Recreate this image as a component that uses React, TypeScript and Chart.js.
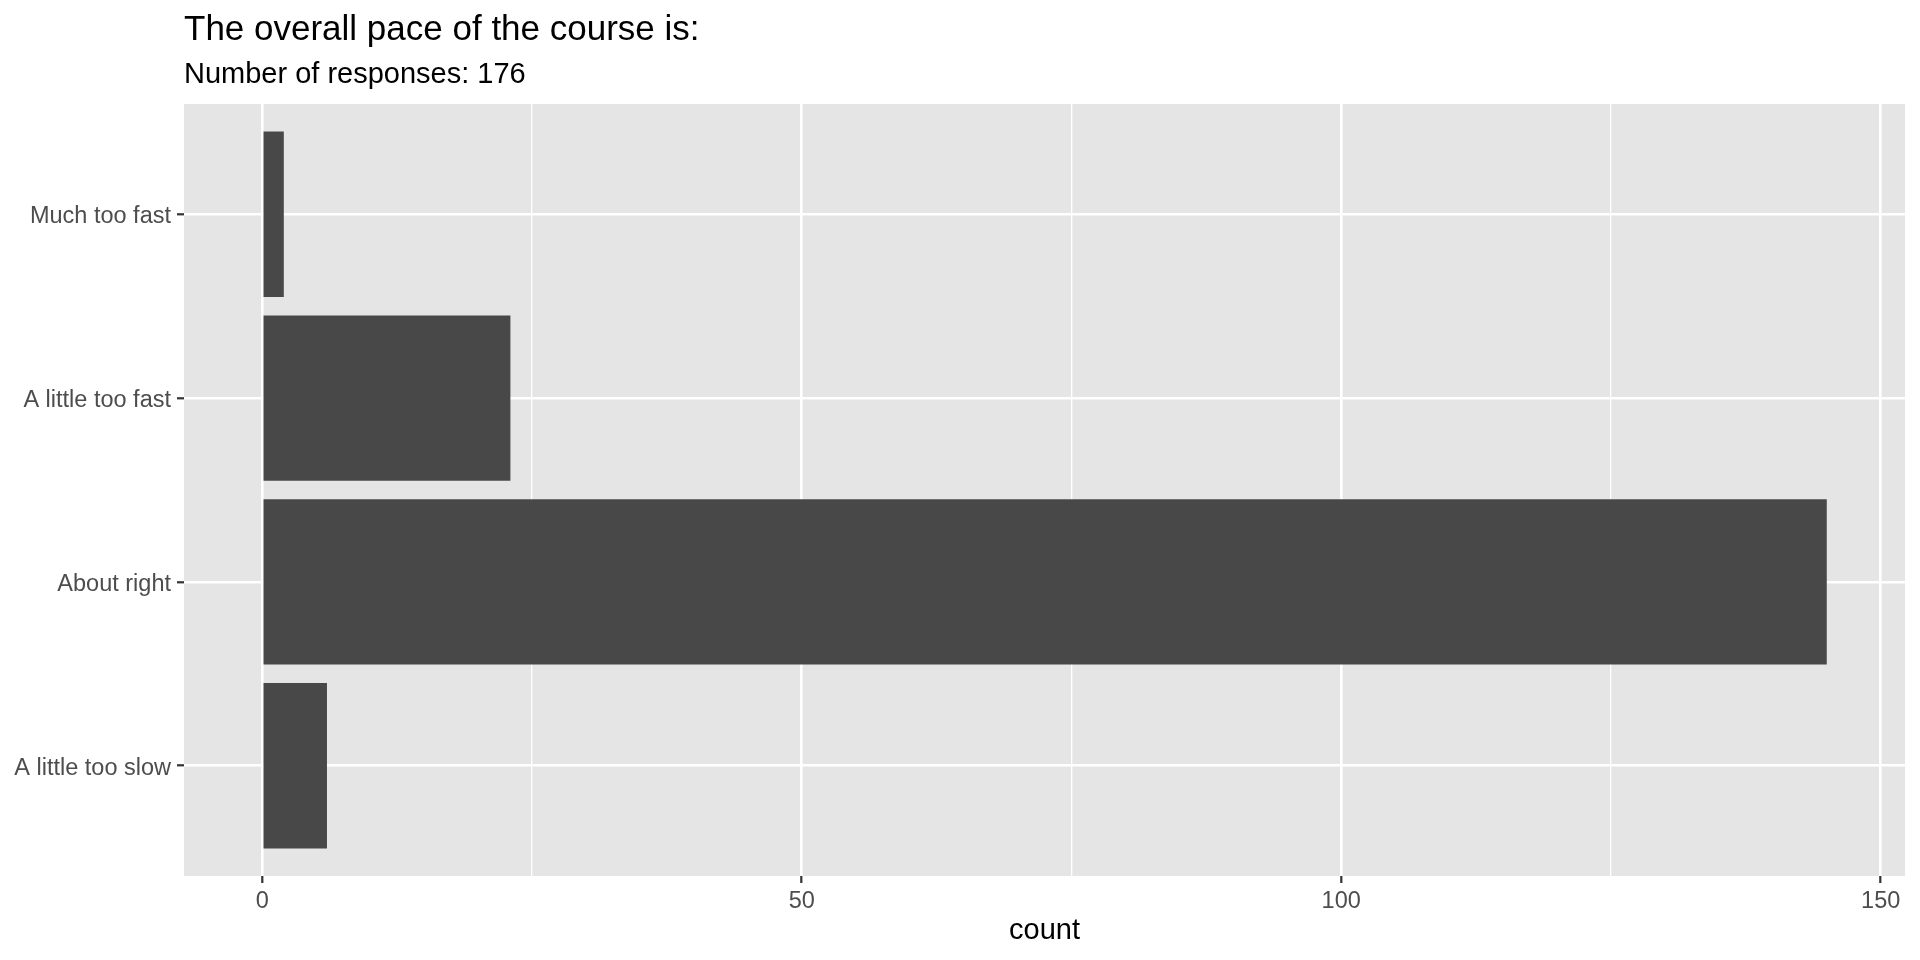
import React, { useEffect, useRef } from "react";
import { Chart, registerables } from "chart.js";

Chart.register(...registerables);

const titleText = "The overall pace of the course is:";
const subtitleText = "Number of responses: 176";
const xAxisTitle = "count";

// ggplot factor order: first level at the bottom
const categories = ["A little too slow", "About right", "A little too fast", "Much too fast"];
const counts = [6, 145, 23, 2];

const xMajorTicks = [0, 50, 100, 150];
const xMinorTicks = [25, 75, 125];
const xMin = -7.25;
const xMax = 152.25;

const FONT = '"Liberation Sans", Arial, Helvetica, sans-serif';

const textPlugin = {
  id: "ggText",
  beforeDraw(chart: any) {
    const { ctx, chartArea } = chart;
    ctx.save();
    ctx.fillStyle = "#E5E5E5";
    ctx.fillRect(chartArea.left, chartArea.top, chartArea.right - chartArea.left, chartArea.bottom - chartArea.top);
    ctx.restore();
  },
  afterDraw(chart: any) {
    const { ctx, chartArea } = chart;
    ctx.save();
    ctx.fillStyle = "#000000";
    ctx.textBaseline = "alphabetic";
    ctx.textAlign = "left";
    ctx.font = `35px ${FONT}`;
    ctx.fillText(titleText, chartArea.left, 40);
    ctx.font = `29px ${FONT}`;
    ctx.fillText(subtitleText, chartArea.left, 83);
    ctx.textAlign = "center";
    ctx.font = `29px ${FONT}`;
    ctx.fillText(xAxisTitle, (chartArea.left + chartArea.right) / 2, 939);
    ctx.restore();
  },
};

export default function App() {
  const canvasRef = useRef<HTMLCanvasElement | null>(null);

  useEffect(() => {
    document.body.style.margin = "0";
    const canvas = canvasRef.current;
    if (!canvas) return;
    const allX = [...xMajorTicks, ...xMinorTicks].sort((a, b) => a - b);
    const chart = new Chart(canvas, {
      type: "bar",
      data: {
        datasets: [
          {
            data: counts.map((v, i) => ({ x: v, y: i + 1 })) as any,
            backgroundColor: "#484848",
            borderWidth: 0,
            barPercentage: 0.9,
            categoryPercentage: 1.0,
          },
        ],
      },
      options: {
        indexAxis: "y",
        responsive: false,
        animation: false,
        devicePixelRatio: 1,
        layout: { padding: { top: 104, right: 15, left: 0, bottom: 0 } },
        plugins: {
          legend: { display: false },
          tooltip: { enabled: false },
          title: { display: false },
        },
        scales: {
          x: {
            type: "linear",
            min: xMin,
            max: xMax,
            offset: false,
            afterBuildTicks: (scale: any) => {
              scale.ticks = allX.map((v) => ({ value: v }));
            },
            afterFit: (scale: any) => {
              scale.height = 84;
            },
            border: { display: false },
            grid: {
              offset: false,
              color: "#FFFFFF",
              lineWidth: (c: any) => (xMajorTicks.includes(c.tick?.value) ? 2.6 : 1.3),
              tickColor: (c: any) => (xMajorTicks.includes(c.tick?.value) ? "#333333" : "rgba(0,0,0,0)"),
              tickWidth: 2.2,
              tickLength: 7,
              drawTicks: true,
            },
            ticks: {
              autoSkip: false,
              maxRotation: 0,
              padding: 4,
              color: "#4D4D4D",
              font: { family: FONT, size: 23.5 },
              callback: (v: any) => (xMajorTicks.includes(Number(v)) ? String(v) : ""),
            },
          },
          y: {
            type: "linear",
            min: 0.4,
            max: 4.6,
            offset: false,
            afterBuildTicks: (scale: any) => {
              scale.ticks = categories.map((_, i) => ({ value: i + 1 }));
            },
            afterFit: (scale: any) => {
              scale.width = 184;
            },
            border: { display: false },
            grid: {
              offset: false,
              color: "#FFFFFF",
              lineWidth: 2.6,
              tickColor: "#333333",
              tickWidth: 2.2,
              tickLength: 7,
            },
            ticks: {
              autoSkip: false,
              padding: 6,
              labelOffset: 2.5,
              color: "#4D4D4D",
              font: { family: FONT, size: 23.5 },
              callback: (v: any) => categories[Number(v) - 1] ?? "",
            },
          },
        },
      },
      plugins: [textPlugin],
    });
    return () => chart.destroy();
  }, []);

  return (
    <div style={{ position: "absolute", left: 0, top: 0, width: 1920, height: 960, background: "#FFFFFF" }}>
      <canvas ref={canvasRef} width={1920} height={960} style={{ width: 1920, height: 960, display: "block" }} />
    </div>
  );
}
